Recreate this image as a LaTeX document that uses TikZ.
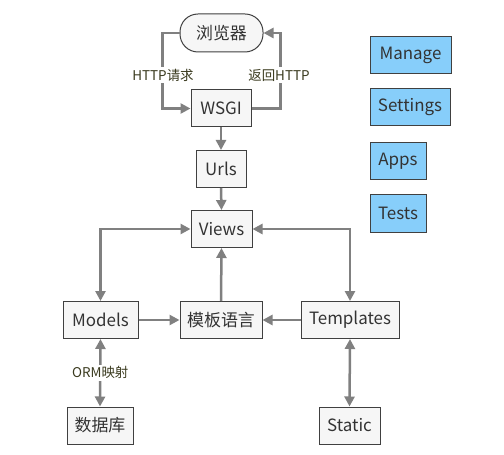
\documentclass[tikz,border=0pt]{standalone}
\usepackage{fontspec}
\setmainfont{Noto Sans CJK SC}
\usetikzlibrary{arrows.meta}
\definecolor{boxfill}{RGB}{246,246,246}
\definecolor{boxline}{RGB}{64,64,64}
\definecolor{bluefill}{RGB}{135,206,250}
\definecolor{conn}{RGB}{128,128,128}
\definecolor{lbl}{RGB}{58,58,30}
\definecolor{txt}{RGB}{51,51,51}
\tikzset{
  gbox/.style={draw=boxline, fill=boxfill, line width=1bp, inner sep=0pt, text=txt, font=\fontsize{17}{19}\selectfont, minimum height=37bp},
  bbox/.style={draw=boxline, fill=bluefill, line width=1bp, inner sep=0pt, text=txt, font=\fontsize{17}{19}\selectfont, minimum height=37bp},
  pill/.style={draw=boxline, fill=boxfill, line width=1bp, rounded corners=18bp, inner sep=0pt, text=txt, font=\fontsize{17}{19}\selectfont, minimum height=38bp, minimum width=83bp},
  conn/.style={draw=conn, line width=2.5bp, -{Triangle[length=10bp,width=10bp]}},
  dconn/.style={draw=conn, line width=2.5bp, {Triangle[length=10bp,width=10bp]}-{Triangle[length=10bp,width=10bp]}},
  lab/.style={fill=white, text=lbl, inner sep=2bp, font=\fontsize{13.5}{15}\selectfont}
}
\begin{document}
\begin{tikzpicture}[x=1bp,y=-1bp]
\useasboundingbox[fill=white] (0,0) rectangle (504,455);
\node[pill] (browser) at (221.5,33) {浏览器};
\node[gbox, minimum width=60bp] (wsgi) at (221,108.5) {WSGI};
\node[gbox, minimum width=50bp] (urls) at (221,169) {Urls};
\node[gbox, minimum width=61bp] (views) at (221.5,229) {Views};
\node[gbox, minimum width=75bp] (models) at (100.5,320) {Models};
\node[gbox, minimum width=82bp] (tpl) at (221,320) {模板语言};
\node[gbox, minimum width=98bp] (templates) at (350,320) {Templates};
\node[gbox, minimum width=66bp] (db) at (100,425.5) {数据库};
\node[gbox, minimum width=61bp] (static) at (349.5,425.5) {Static};
\node[bbox, minimum width=81bp] (manage) at (410.5,55.5) {Manage};
\node[bbox, minimum width=80bp] (settings) at (410,107.5) {Settings};
\node[bbox, minimum width=56bp] (apps) at (398,161) {Apps};
\node[bbox, minimum width=56bp] (tests) at (398,213.5) {Tests};

\draw[conn] (browser.west) -- ++(-17,0) coordinate (bl) |- (wsgi.west);
\draw[conn] (wsgi.east) -- ++(29,0) coordinate (br) |- (browser.east);
\node[lab] (l1) at (163,75) {HTTP请求};
\node[lab] (l2) at (279,75) {返回HTTP};
\draw[conn] (wsgi.south) -- (urls.north);
\draw[conn] (urls.south) -- (views.north);
\draw[dconn] (views.west) -| (models.north);
\draw[dconn] (views.east) -| (templates.north);
\draw[conn] (tpl.north) -- (views.south);
\draw[conn] (models.east) -- (tpl.west);
\draw[conn] (templates.west) -- (tpl.east);
\draw[dconn] (models.south) -- (db.north) node[lab, midway] (l3) {ORM映射};
\draw[dconn] (templates.south) -- (static.north);
\end{tikzpicture}
\end{document}
